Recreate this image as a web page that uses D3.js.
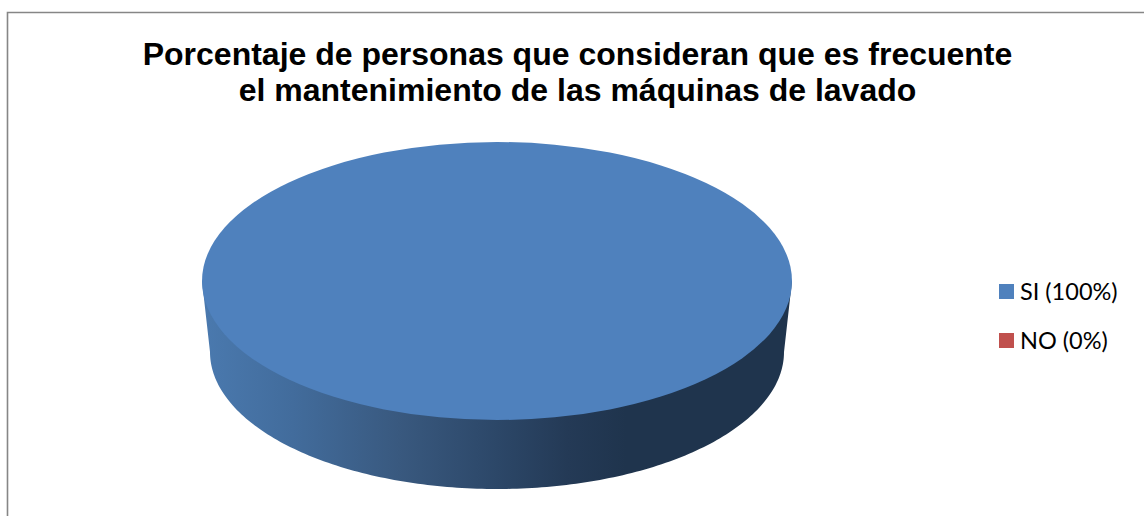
<!DOCTYPE html>
<html><head><meta charset="utf-8">
<script src="https://cdnjs.cloudflare.com/ajax/libs/d3/7.8.5/d3.min.js"></script>
<style>html,body{margin:0;padding:0;background:#fff;overflow:hidden}svg{display:block}</style>
</head><body><svg id="c" width="1144" height="516"></svg>
<script>
const categories = ["SI (100%)", "NO (0%)"];
const values = [100, 0];
const colors = ["#4f81bd", "#c0504d"];
const titleLines = ["Porcentaje de personas que consideran que es frecuente", "el mantenimiento de las máquinas de lavado"];

const svg = d3.select("#c");
const color = d3.scaleOrdinal(categories, colors);
const slices = d3.pie().sort(null)(values);

// chart frame: only the top and left edges are visible
svg.append("path").attr("d", d3.line()([[7.5, 516], [7.5, 12.5], [1144, 12.5]]))
  .attr("fill", "none").attr("stroke", "#868686").attr("stroke-width", 1.6);

// title
svg.append("g").selectAll("text").data(titleLines).join("text")
  .attr("x", 577.5).attr("y", (d, i) => 65 + i * 36)
  .attr("text-anchor", "middle")
  .attr("font-family", "'Liberation Sans'").attr("font-weight", "bold").attr("font-size", 32)
  .attr("fill", "#000").text(d => d);

// 3D pie geometry
const top3d = {cx: 497, cy: 281, rx: 295, ry: 139};
const bot3d = {cx: 497, cy: 352, rx: 287, ry: 137};

const defs = svg.append("defs");
const grad = defs.append("linearGradient").attr("id", "wall")
  .attr("gradientUnits", "userSpaceOnUse").attr("x1", 205).attr("x2", 790).attr("y1", 0).attr("y2", 0);
[[0, "#4a79ae"], [0.15, "#426c9c"], [0.33, "#39597f"], [0.5, "#2c4768"], [0.62, "#243a56"], [0.72, "#1f344d"], [1, "#1f344d"]]
  .forEach(([o, c]) => grad.append("stop").attr("offset", o).attr("stop-color", c));

// wall: front half of the lower rim, closed against the widest points of the top face
const rim = d3.range(Math.PI / 2, 3 * Math.PI / 2 + 0.001, Math.PI / 180)
  .map(a => [bot3d.cx + bot3d.rx * Math.sin(a), bot3d.cy - bot3d.ry * Math.cos(a)]);
const wallPts = [[top3d.cx + top3d.rx, top3d.cy], ...rim, [top3d.cx - top3d.rx, top3d.cy]];
svg.append("path").attr("d", d3.line()(wallPts) + "Z").attr("fill", "url(#wall)");

// top face
const arc = d3.arc().innerRadius(0).outerRadius(1);
svg.append("g")
  .attr("transform", `translate(${top3d.cx},${top3d.cy}) scale(${top3d.rx},${top3d.ry})`)
  .selectAll("path").data(slices).join("path")
  .attr("d", arc).attr("fill", (d, i) => color(categories[i]));

// legend
const legend = svg.append("g").selectAll("g").data(categories).join("g")
  .attr("transform", (d, i) => `translate(999,${291.5 + i * 49})`);
legend.append("rect").attr("x", 0).attr("y", -7.5).attr("width", 15).attr("height", 15)
  .attr("fill", d => color(d));
legend.append("text").attr("x", 21).attr("y", 8.5)
  .attr("font-family", "Lato").attr("font-size", 23.5).attr("fill", "#000").text(d => d);
</script></body></html>
